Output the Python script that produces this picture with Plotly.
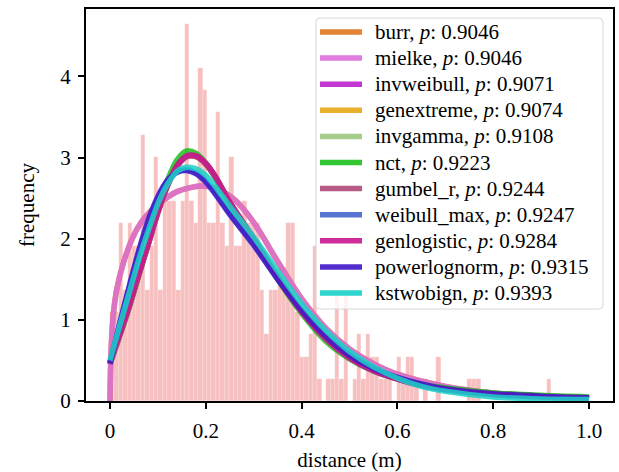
import numpy as np
import plotly.graph_objects as go

# ---------------- data ----------------
hist_lo, hist_hi = 0.0, 0.921
bin_counts = [4, 4, 8, 5, 8, 7, 7, 12, 5, 7,
              11, 5, 9, 9, 9, 5, 9, 17, 9, 8,
              15, 14, 8, 8, 13, 8, 7, 11, 7, 7,
              9, 8, 8, 8, 5, 3, 5, 5, 6, 6,
              8, 8, 4, 2, 2, 3, 7, 1, 0, 1,
              1, 5, 1, 5, 0, 1, 3, 1, 3, 2,
              2, 1, 1, 1, 0, 2, 1, 2, 2, 1,
              0, 1, 0, 0, 2, 0, 0, 0, 0, 0,
              0, 1, 1, 1, 0, 0, 0, 0, 0, 0,
              0, 0, 0, 0, 0, 0, 0, 0, 0, 1]

xs = [0, 0.02, 0.04, 0.06, 0.08, 0.10, 0.12, 0.14, 0.16, 0.18, 0.20, 0.22, 0.25,
      0.30, 0.35, 0.40, 0.45, 0.50, 0.55, 0.60, 0.65, 0.70, 0.80, 0.90, 1.00]

xs_m = [0, 0.002, 0.006, 0.014, 0.028, 0.048, 0.07, 0.10, 0.14, 0.19, 0.22, 0.26,
        0.30, 0.35, 0.40, 0.45, 0.50, 0.55, 0.60, 0.70, 0.80, 0.90, 1.00]

mielke_y = [0, 0.55, 1.0, 1.37, 1.70, 2.02, 2.24, 2.42, 2.58, 2.65, 2.62, 2.48,
            2.20, 1.72, 1.26, 0.90, 0.64, 0.46, 0.33, 0.18, 0.10, 0.06, 0.04]
burr_y = mielke_y
invweibull_y = [0.46, 0.80, 1.16, 1.55, 1.93, 2.32, 2.65, 2.89, 3.01, 3.01, 2.92, 2.76, 2.45,
                2.00, 1.53, 1.11, 0.78, 0.55, 0.39, 0.28, 0.20, 0.15, 0.09, 0.06, 0.04]
genextreme_y = [0.46, 0.81, 1.16, 1.55, 1.93, 2.32, 2.65, 2.89, 3.01, 3.01, 2.92, 2.76, 2.45,
                2.00, 1.53, 1.11, 0.78, 0.55, 0.39, 0.28, 0.20, 0.15, 0.09, 0.06, 0.04]
invgamma_y = [0.46, 0.81, 1.17, 1.56, 1.94, 2.33, 2.66, 2.90, 3.02, 3.02, 2.93, 2.76, 2.45,
              2.00, 1.53, 1.11, 0.78, 0.55, 0.39, 0.28, 0.20, 0.15, 0.09, 0.06, 0.04]
nct_y = [0.48, 0.80, 1.15, 1.55, 1.95, 2.38, 2.72, 2.97, 3.08, 3.05, 2.93, 2.75, 2.42,
         1.98, 1.50, 1.08, 0.74, 0.52, 0.37, 0.27, 0.20, 0.16, 0.10, 0.07, 0.05]
gumbel_r_y = [0.45, 0.80, 1.16, 1.55, 1.93, 2.32, 2.65, 2.89, 3.01, 3.01, 2.92, 2.76, 2.45,
              2.00, 1.53, 1.11, 0.78, 0.54, 0.38, 0.27, 0.19, 0.14, 0.08, 0.05, 0.03]
weibull_max_y = [0.47, 0.93, 1.39, 1.82, 2.20, 2.50, 2.71, 2.82, 2.85, 2.81, 2.71, 2.56, 2.31,
                 1.93, 1.51, 1.12, 0.80, 0.56, 0.39, 0.28, 0.20, 0.14, 0.08, 0.05, 0.03]
genlogistic_y = [0.48, 0.82, 1.17, 1.56, 1.94, 2.33, 2.66, 2.90, 3.02, 3.02, 2.93, 2.77, 2.45,
                 2.00, 1.52, 1.10, 0.77, 0.53, 0.37, 0.27, 0.19, 0.14, 0.08, 0.05, 0.03]
powerlognorm_y = [0.46, 0.95, 1.41, 1.85, 2.23, 2.52, 2.72, 2.82, 2.84, 2.80, 2.70, 2.55, 2.30,
                  1.92, 1.50, 1.12, 0.80, 0.56, 0.40, 0.29, 0.21, 0.15, 0.09, 0.06, 0.04]
kstwobign_y = [0.50, 0.92, 1.33, 1.74, 2.10, 2.43, 2.67, 2.83, 2.88, 2.86, 2.78, 2.64, 2.40,
               2.02, 1.60, 1.20, 0.87, 0.61, 0.42, 0.28, 0.18, 0.12, 0.05, 0.025, 0.02]

dist_names = ["burr", "mielke", "invweibull", "genextreme", "invgamma", "nct",
              "gumbel_r", "weibull_max", "genlogistic", "powerlognorm", "kstwobign"]
p_values = ["0.9046", "0.9046", "0.9071", "0.9074", "0.9108", "0.9223",
            "0.9244", "0.9247", "0.9284", "0.9315", "0.9393"]
curve_x = [xs_m, xs_m, xs, xs, xs, xs, xs, xs, xs, xs, xs]
curve_y = [burr_y, mielke_y, invweibull_y, genextreme_y, invgamma_y, nct_y,
           gumbel_r_y, weibull_max_y, genlogistic_y, powerlognorm_y, kstwobign_y]
colors = ["#e2761f", "#dc6fdc", "#bb22cc", "#e6a817", "#9dc77f", "#1ec01e",
          "#b04a7a", "#4466cc", "#c8168f", "#4218c8", "#1ad2c8"]

# ---------------- layout constants (pixels) ----------------
W, H = 619, 472
ML, MR, MT, MB = 86, 6, 9, 71
PW, PH = W - ML - MR, H - MT - MB


def px_to_paper_x(px):
    return (px - ML) / PW


def py_to_paper_y(py):
    return (H - MB - py) / PH


# legend box and rows (matplotlib-style legend drawn with shapes + text)
LEG_X0, LEG_X1, LEG_Y0, LEG_Y1 = 316, 603, 18, 309
ROW0, ROW_STEP = 32.0, 26.1
HANDLE_X0, HANDLE_X1, TEXT_X = 320, 362, 373

# ---------------- figure ----------------
edges = np.linspace(hist_lo, hist_hi, len(bin_counts) + 1)
width = edges[1] - edges[0]
centers = (edges[:-1] + edges[1:]) / 2
counts = np.array(bin_counts, dtype=float)
density = counts / (counts.sum() * width)

fig = go.Figure()
fig.add_trace(go.Bar(x=centers, y=density, width=width,
                     marker=dict(color="rgba(240,128,128,0.5)",
                                 line=dict(width=0.4, color="rgba(255,255,255,0.5)")),
                     showlegend=False, hoverinfo="skip"))

for name, p, cx, cy, c in zip(dist_names, p_values, curve_x, curve_y, colors):
    fig.add_trace(go.Scatter(x=cx, y=cy, mode="lines",
                             line=dict(color=c, width=5.5, shape="spline", smoothing=0.8),
                             opacity=0.85, showlegend=False,
                             name=f"{name}, p: {p}"))

serif = "Liberation Serif"
font = dict(family=serif, size=21, color="#000")

# legend frame (rounded rectangle)
x0, x1 = px_to_paper_x(LEG_X0), px_to_paper_x(LEG_X1)
y0, y1 = py_to_paper_y(LEG_Y1), py_to_paper_y(LEG_Y0)
rx, ry = 4 / PW, 4 / PH
path = (f"M {x0+rx},{y0} L {x1-rx},{y0} Q {x1},{y0} {x1},{y0+ry} "
        f"L {x1},{y1-ry} Q {x1},{y1} {x1-rx},{y1} L {x0+rx},{y1} "
        f"Q {x0},{y1} {x0},{y1-ry} L {x0},{y0+ry} Q {x0},{y0} {x0+rx},{y0} Z")
shapes = [dict(type="path", xref="paper", yref="paper", path=path,
               fillcolor="rgba(255,255,255,0.8)", line=dict(color="#d6d6d6", width=1),
               layer="above")]
annotations = []
for i, (name, p, c) in enumerate(zip(dist_names, p_values, colors)):
    yy = py_to_paper_y(ROW0 + i * ROW_STEP)
    shapes.append(dict(type="line", xref="paper", yref="paper",
                       x0=px_to_paper_x(HANDLE_X0), x1=px_to_paper_x(HANDLE_X1),
                       y0=yy, y1=yy, line=dict(color=c, width=5.5), opacity=0.9,
                       layer="above"))
    annotations.append(dict(xref="paper", yref="paper", x=px_to_paper_x(TEXT_X), y=yy,
                            xanchor="left", yanchor="middle", showarrow=False,
                            text=f"{name}, <i>p</i>: {p}", font=font))

fig.update_layout(
    width=W, height=H,
    margin=dict(l=ML, r=MR, t=MT, b=MB, autoexpand=False),
    plot_bgcolor="white", paper_bgcolor="white",
    font=font,
    bargap=0,
    showlegend=False,
    shapes=shapes,
    annotations=annotations,
)
fig.update_xaxes(range=[-0.05, 1.05], tickvals=[0, 0.2, 0.4, 0.6, 0.8, 1.0],
                 ticktext=["0", "0.2", "0.4", "0.6", "0.8", "1.0"],
                 tickfont=font, ticklabelstandoff=4, automargin=False,
                 showline=True, linecolor="black", linewidth=2, mirror=True,
                 ticks="outside", ticklen=6, tickwidth=1.5, tickcolor="black",
                 showgrid=False, zeroline=False,
                 title=dict(text="distance (m)", standoff=12, font=font))
fig.update_yaxes(range=[0, 4.83], tickvals=[0, 1, 2, 3, 4],
                 ticktext=["0", "1", "2", "3", "4"],
                 tickfont=font, ticklabelstandoff=3, automargin=False,
                 showline=True, linecolor="black", linewidth=2, mirror=True,
                 ticks="outside", ticklen=6, tickwidth=1.5, tickcolor="black",
                 showgrid=False, zeroline=False,
                 title=dict(text="frequency", standoff=20, font=font))

fig.write_html("out.html")
